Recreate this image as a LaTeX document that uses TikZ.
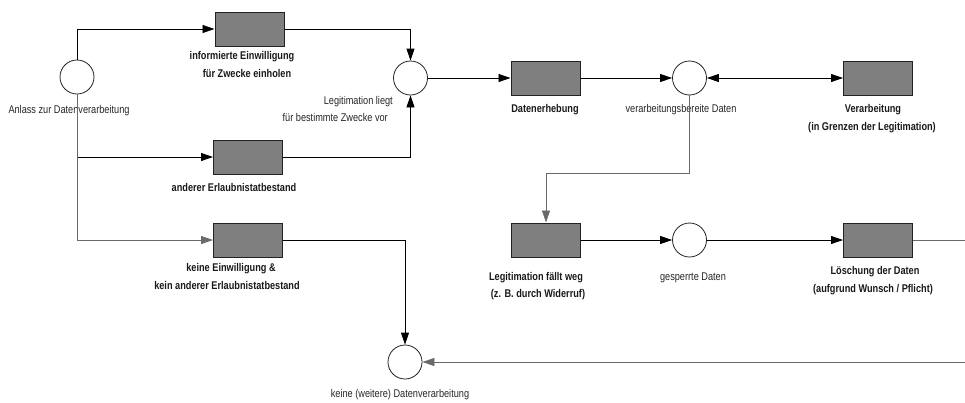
\documentclass[tikz,border=0pt]{standalone}
\usepackage{fontspec}
\usepackage{graphicx}
\setmainfont{Liberation Sans}
\usetikzlibrary{arrows.meta}
\definecolor{boxfill}{HTML}{7F7F7F}
\definecolor{boxline}{HTML}{222222}
\definecolor{lgray}{HTML}{6A6A6A}
\newcommand{\sqz}[1]{\scalebox{0.82}[1]{#1}}
\begin{document}
\begin{tikzpicture}[x=1pt,y=-1pt,
  place/.style={circle,draw=boxline,fill=white,line width=0.8pt,minimum size=34pt,inner sep=0pt},
  trans/.style={rectangle,draw=boxline,fill=boxfill,line width=1pt,minimum width=69pt,minimum height=34pt,inner sep=0pt},
  arr/.style={-{Triangle[length=12pt,width=8pt]},line width=0.8pt},
  lab/.style={font=\fontsize{11.2}{13}\selectfont,text=black!85,anchor=base,inner sep=0pt},
  blab/.style={font=\fontsize{11.2}{13}\selectfont\bfseries,text=black!90,anchor=base,inner sep=0pt}]
\useasboundingbox (0,0) rectangle (965,402);
\clip (0,0) rectangle (965,402);
% places
\node[place] (c1) at (77,77) {};
\node[place] (c2) at (410.5,78) {};
\node[place] (c3) at (689.5,78) {};
\node[place] (c4) at (689.5,240) {};
\node[place] (c5) at (405,362) {};
% transitions
\node[trans] (b1) at (249.5,29) {};
\node[trans] (b2) at (248,157) {};
\node[trans] (b3) at (248,240) {};
\node[trans] (b4) at (545.5,78) {};
\node[trans] (b5) at (878,78) {};
\node[trans] (b6) at (546,240) {};
\node[trans] (b7) at (878,240) {};
% labels
\node[lab] (l1) at (69,113) {\sqz{Anlass zur Datenverarbeitung}};
\node[blab] (l2a) at (242,59) {\sqz{informierte Einwilligung}};
\node[blab] (l2b) at (247,77) {\sqz{für Zwecke einholen}};
\node[blab] (l3) at (234,191) {\sqz{anderer Erlaubnistatbestand}};
\node[blab] (l4a) at (231,271) {\sqz{keine Einwilligung \&}};
\node[blab] (l4b) at (227,289) {\sqz{kein anderer Erlaubnistatbestand}};
\node[lab,anchor=base east] (l5a) at (393,104) {\sqz{Legitimation liegt}};
\node[lab,anchor=base east] (l5b) at (388,121) {\sqz{für bestimmte Zwecke vor}};
\node[blab] (l6) at (545,112) {\sqz{Datenerhebung}};
\node[lab] (l7) at (681,112) {\sqz{verarbeitungsbereite Daten}};
\node[blab] (l8a) at (873,112) {\sqz{Verarbeitung}};
\node[blab] (l8b) at (872,130) {\sqz{(in Grenzen der Legitimation)}};
\node[blab] (l9a) at (536,280) {\sqz{Legitimation fällt weg}};
\node[blab] (l9b) at (538,297) {\sqz{(z. B. durch Widerruf)}};
\node[lab] (l10) at (693,280) {\sqz{gesperrte Daten}};
\node[blab] (l11a) at (875,274) {\sqz{Löschung der Daten}};
\node[blab] (l11b) at (873,292) {\sqz{(aufgrund Wunsch / Pflicht)}};
\node[lab] (l12) at (400,397) {\sqz{keine (weitere) Datenverarbeitung}};
% connectors
\draw[arr] (c1.north) |- (b1.west);
\draw[arr] (c1.south) |- (b2.west);
\draw[arr,draw=lgray] (c1.south) |- (b3.west);
\draw[arr] (b1.east) -| (c2.north);
\draw[arr] (b2.east) -| (c2.south);
\draw[arr] (c2.east) -- (b4.west);
\draw[arr] (b4.east) -- (c3.west);
\draw[{Triangle[length=12pt,width=8pt]}-{Triangle[length=12pt,width=8pt]},line width=0.8pt] (c3.east) -- (b5.west);
\coordinate (k1) at (689.5,173);
\draw[arr,draw=lgray] (c3.south) -- (k1) -| (b6.north);
\draw[arr] (b6.east) -- (c4.west);
\draw[arr] (c4.east) -- (b7.west);
\coordinate (k2) at (975,240);
\coordinate (k3) at (975,362);
\draw[arr,draw=lgray] (b7.east) -- (k2) -- (k3) -- (c5.east);
\draw[arr] (b3.east) -| (c5.north);
\end{tikzpicture}
\end{document}
